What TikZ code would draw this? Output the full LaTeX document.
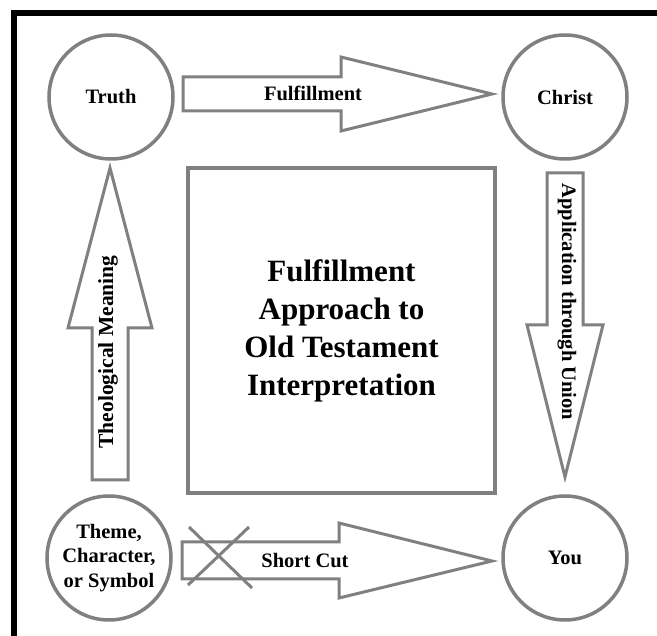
\documentclass[tikz,border=0pt]{standalone}
\usepackage{fontspec}
\setmainfont{Liberation Serif}
\usetikzlibrary{calc}
\definecolor{rahmen}{RGB}{0,0,0}
\definecolor{grau}{RGB}{128,128,128}
\tikzset{
  station/.style={circle, draw=grau, line width=3.5pt, minimum size=124pt, inner sep=0pt, align=center,
    font=\fontsize{20.5}{24.5}\selectfont\bfseries},
  blockarrow/.style={draw=grau, line width=3pt, line join=miter},
  pfeiltext/.style={inner sep=0pt, font=\fontsize{20.5}{24.5}\selectfont\bfseries},
}

\begin{document}
\begin{tikzpicture}[x=1pt, y=-1pt]

    \useasboundingbox (0,0) rectangle (657,636);
    % Rahmen oben und links
    \fill[rahmen] (11,10) rectangle (657,16);
    \fill[rahmen] (11,10) rectangle (17,636);

    \node[station] (truth)  at (111,97)  {Truth};
    \node[station] (christ) at (565,97)  {Christ};
    \node[station] (theme)  at (109,558) {Theme,\\Character,\\or Symbol};
    \node[station] (you)    at (565,558) {You};

    \node[draw=grau, line width=4pt, minimum width=307pt, minimum height=325pt, align=center,
      font=\fontsize{31}{38}\selectfont\bfseries] (approach) at (341.5,330.5)
      {Fulfillment\\Approach to\\Old Testament\\Interpretation};

    % Truth -> Christ
    \draw[blockarrow] (183,77) -- (341,77) -- (341,57) -- (492,94) -- (341,131) -- (341,111) -- (183,111) -- cycle;
    \node[pfeiltext] (fulfil) at (313,93) {Fulfillment};
    % Christ -> You
    \draw[blockarrow] (547,173) -- (547,325) -- (527,325) -- (565,477) -- (603,325) -- (583,325) -- (583,173) -- cycle;
    \node[pfeiltext, rotate=-90] (application) at (567,302) {Application through Union};
    % Theme -> Truth
    \draw[blockarrow] (92,480) -- (92,328) -- (68,328) -- (110,168) -- (152,328) -- (128,328) -- (128,480) -- cycle;
    \node[pfeiltext, rotate=90, font=\fontsize{21.5}{25}\selectfont\bfseries] (meaning) at (108,352) {Theological Meaning};
    % Theme -> You (short cut)
    \draw[blockarrow] (182,542) -- (339,542) -- (339,523) -- (492,561) -- (339,598) -- (339,579) -- (182,579) -- cycle;
    \node[pfeiltext] (shortcut) at (305,561) {Short Cut};
    \draw[grau, line width=3pt] (189,527) -- (252,588);
    \draw[grau, line width=3pt] (249,527) -- (188,585);

\end{tikzpicture}
\end{document}
